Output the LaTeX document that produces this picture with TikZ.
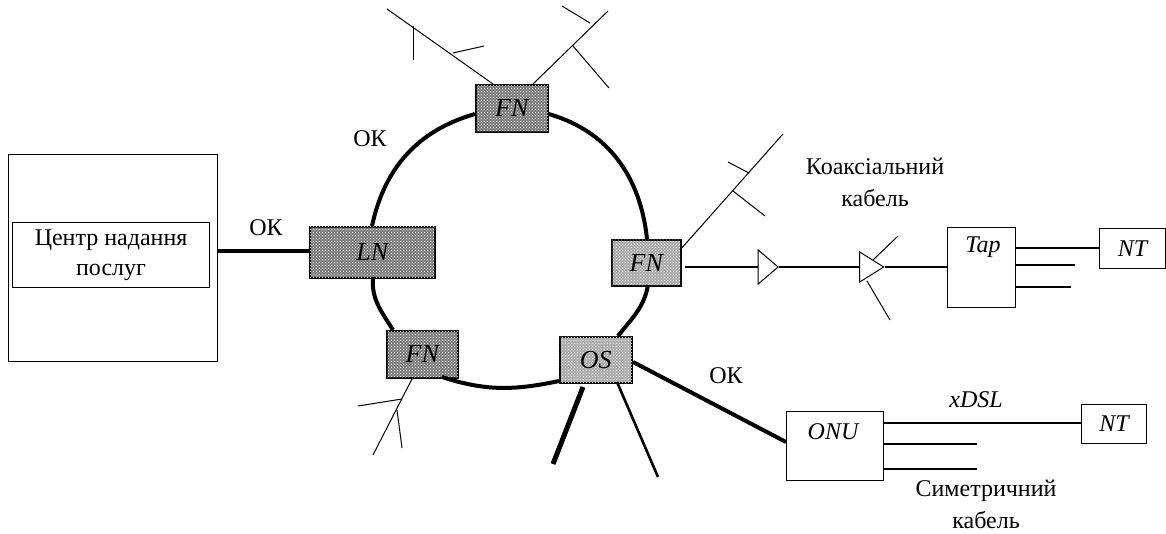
\documentclass[tikz,border=0pt]{standalone}
\usepackage{fontspec}
\setmainfont{Liberation Serif}
\usetikzlibrary{positioning, patterns, shapes.geometric}
\definecolor{darkFill}{HTML}{7A7A7A}
\definecolor{lightFill}{HTML}{A8A8A8}

\begin{document}
\begin{tikzpicture}[
    x=1pt, y=-1pt,
    every node/.style={font=\fontsize{24}{28}\selectfont},
    box/.style={
        draw,
        line width=1.2pt,
        inner sep=0pt,
        anchor=north west,
    },
    ringnode/.style={
        box,
        line width=1.6pt,
        font=\fontsize{26}{28}\selectfont\itshape,
        postaction={pattern=crosshatch dots, pattern color=white},
    },
    darknode/.style={ringnode, fill=darkFill},
    lightnode/.style={ringnode, fill=lightFill},
    amp/.style={
        draw,
        line width=1pt,
        isosceles triangle,
        isosceles triangle stretches,
        inner sep=0pt,
    },
    ring/.style={line width=4pt},
    fibre/.style={line width=4pt},
    branch/.style={line width=1pt},
    cable/.style={line width=1.2pt},
    label/.style={align=center},
    italiclabel/.style={font=\fontsize{24}{28}\selectfont\itshape},
]

\useasboundingbox (0,0) rectangle (1166,534);

% left side
\node[box, minimum width=209pt, minimum height=207pt] (centre) at (8,154) {};
\node[box, minimum width=197pt, minimum height=65pt, align=center] (service) at (12,222) {Центр надання\\[2pt]послуг};

% ring
\node[darknode, minimum width=72pt, minimum height=47pt] (fnTop) at (475,84) {FN};
\node[darknode, minimum width=125pt, minimum height=51pt] (lnode) at (309,226) {LN};
\node[lightnode, minimum width=69pt, minimum height=46pt] (fnRight) at (611,239) {FN};
\node[darknode, minimum width=71pt, minimum height=47pt] (fnBottom) at (386,330) {FN};
\node[lightnode, minimum width=72pt, minimum height=46pt] (osNode) at (559,336) {OS};

\draw[ring] (fnTop.west |- 0,114) to[out=196, in=78] (372,226);
\draw[ring] (fnTop.east |- 0,114) to[out=-16, in=96] (647,239);
\draw[ring] (373,277) to[out=-95, in=122] (393,330);
\draw[ring] (442,377) to[out=-18, in=192] (559,381);
\draw[ring] (618,336) to[out=52, in=-100] (648,285);

% right side
\node[box, minimum width=68pt, minimum height=80pt] (tap) at (947,227) {};
\node[italiclabel] (tapText) at (983,247) {Tap};
\node[box, italiclabel, minimum width=66pt, minimum height=40pt] (ntTop) at (1099,228) {NT};
\node[box, minimum width=97pt, minimum height=69pt] (onu) at (786,411) {};
\node[italiclabel] (onuText) at (833,432) {ONU};
\node[box, italiclabel, minimum width=65pt, minimum height=39pt] (ntBottom) at (1081,404) {NT};
\node[amp, minimum width=34pt, minimum height=20pt] (ampOne) at (766,267) {};
\node[amp, minimum width=30pt, minimum height=24pt] (ampTwo) at (868,267) {};

% fibre
\draw[fibre] (centre.east |- 0,251) -- (lnode.west |- 0,251);
\draw[fibre] (633,362) -- (onu.west |- 0,442);
\coordinate (osLeftEnd) at (553,464);
\coordinate (osRightEnd) at (658,477);
\draw[line width=5pt] (583,387) -- (osLeftEnd);
\draw[line width=2.6pt] (617,382) -- (osRightEnd);

% coax
\draw[cable] ([xshift=3pt]fnRight.east |- ampOne.west) -- (ampOne.west);
\draw[cable] (ampOne.east) -- (ampTwo.west);
\draw[line width=1.8pt] (ampTwo.east) -- (tap.west |- ampTwo.east);
\draw[cable] (tap.east |- 0,248) -- (ntTop.west |- 0,248);
\coordinate (tapEndA) at (1075,265);
\coordinate (tapEndB) at (1071,287);
\draw[cable] (tap.east |- tapEndA) -- (tapEndA);
\draw[cable] (tap.east |- tapEndB) -- (tapEndB);

% xdsl
\draw[cable] (onu.east |- 0,423) -- (ntBottom.west |- 0,423);
\coordinate (onuEndA) at (977,444);
\coordinate (onuEndB) at (977,469);
\draw[cable] (onu.east |- onuEndA) -- (onuEndA);
\draw[cable] (onu.east |- onuEndB) -- (onuEndB);

% branches
\draw[branch] (493,84) -- (387,9);
\draw[branch] (413,26) -- (413,60);
\draw[branch] (453,53) -- (484,46);
\draw[branch] (533,84) -- (608,11);
\draw[branch] (590,23) -- (562,6);
\draw[branch] (573,46) -- (609,88);
\draw[branch] (680,250) -- (783,134);
\draw[branch] (749,173) -- (728,162);
\draw[branch] (733,191) -- (765,216);
\draw[branch] (873,260) -- (898,236);
\draw[branch] (867,281) -- (890,320);
\draw[branch] (413,377) -- (373,455);
\draw[branch] (402,399) -- (358,406);
\draw[branch] (397,410) -- (402,448);

% labels
\node[label] (okRing) at (370,139) {ОК};
\node[label] (okLeft) at (266,228) {ОК};
\node[label] (okOnu) at (726,376) {ОК};
\node[label] (coaxLabel) at (875,182) {Коаксіальний\\[4pt]кабель};
\node[label, italiclabel] (xdslLabel) at (976,400) {xDSL};
\node[label] (symLabel) at (986,504) {Симетричний\\[4pt]кабель};

\end{tikzpicture}
\end{document}
